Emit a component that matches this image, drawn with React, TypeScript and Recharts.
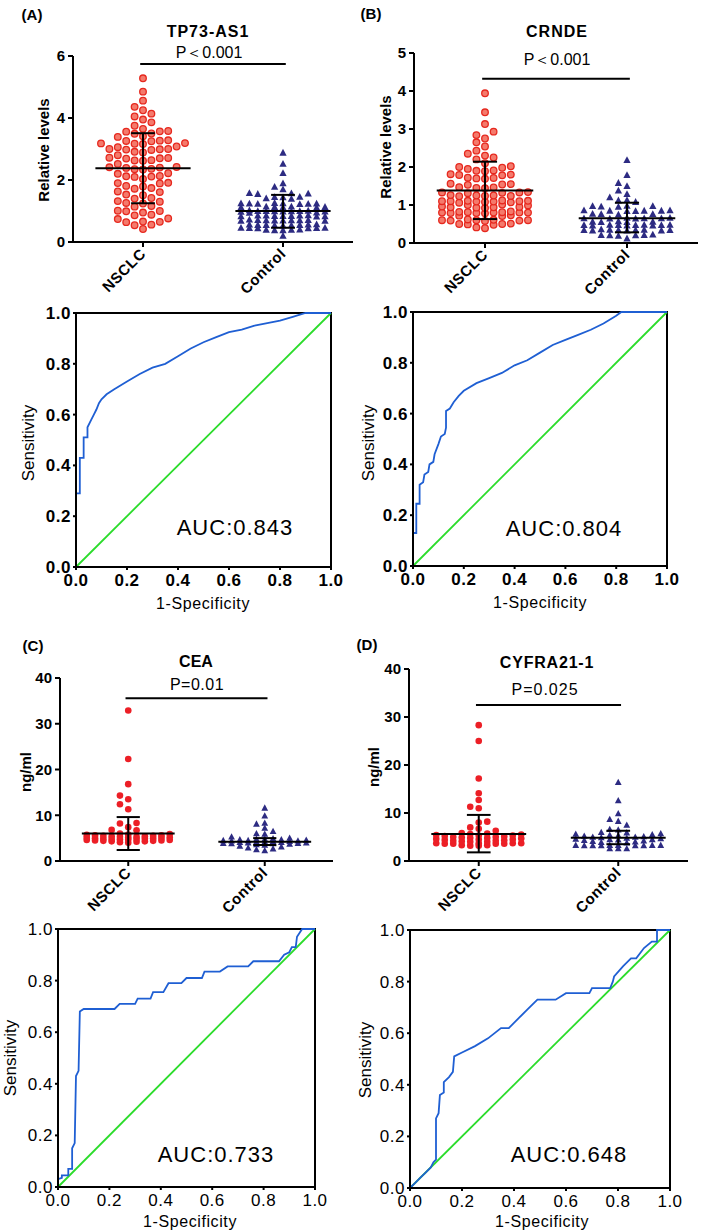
import React from 'react';
import { ScatterChart, Scatter, XAxis, YAxis, ReferenceLine, LineChart, Line, ReferenceArea } from 'recharts';

const FONT = 'Arial, "Liberation Sans", Helvetica, sans-serif';

const groupNames = ['NSCLC', 'Control'];

// ---- Panel A: TP73-AS1 relative levels ----
const tp73Nsclc = [5.28, 4.85, 4.56, 4.36, 4.25, 4.14, 4.05, 3.95, 3.86, 3.75, 3.65, 3.58, 3.56, 3.57, 3.5, 3.49, 3.41, 3.39, 3.28, 3.26, 3.27, 3.25, 3.19, 3.17, 3.18, 3.16, 3.08, 3.06, 3.0, 2.99, 2.98, 2.97, 3.0, 2.91, 2.89, 2.8, 2.71, 2.7, 2.69, 2.72, 2.64, 2.62, 2.63, 2.52, 2.41, 2.4, 2.39, 2.42, 2.36, 2.34, 2.35, 2.22, 2.2, 2.13, 2.11, 2.12, 2.1, 2.03, 1.91, 1.9, 1.89, 1.81, 1.79, 1.74, 1.72, 1.63, 1.61, 1.53, 1.51, 1.42, 1.4, 1.32, 1.3, 1.26, 1.24, 1.16, 1.14, 1.01, 1.0, 0.99, 0.95, 0.88, 0.86, 0.76, 0.74, 0.66, 0.65, 0.64, 0.56, 0.54, 0.42];
const tp73Ctrl = [2.88, 2.52, 2.22, 1.89, 1.78, 1.7, 1.58, 1.57, 1.56, 1.55, 1.46, 1.45, 1.44, 1.41, 1.39, 1.25, 1.24, 1.23, 1.25, 1.24, 1.22, 1.26, 1.23, 1.14, 1.13, 1.12, 1.13, 1.14, 1.12, 1.11, 1.01, 1.0, 0.99, 0.98, 1.0, 0.97, 1.02, 0.99, 0.98, 1.0, 0.95, 0.94, 0.85, 0.84, 0.83, 0.85, 0.84, 0.86, 0.82, 0.84, 0.83, 0.85, 0.71, 0.7, 0.69, 0.7, 0.68, 0.71, 0.69, 0.7, 0.72, 0.68, 0.56, 0.55, 0.54, 0.55, 0.56, 0.53, 0.55, 0.57, 0.54, 0.46, 0.45, 0.44, 0.46, 0.45, 0.44, 0.39, 0.38, 0.4, 0.39, 0.38, 0.2];
const tp73Mean = [2.38, 1.0];
const tp73Hi = [3.51, 1.52];
const tp73Lo = [1.25, 0.46];

// ---- Panel B: CRNDE relative levels ----
const crndeNsclc = [3.94, 3.44, 3.13, 2.93, 2.84, 2.75, 2.65, 2.54, 2.43, 2.35, 2.3, 2.25, 2.2, 2.1, 2.02, 2.0, 1.98, 1.95, 1.9, 1.89, 1.91, 1.8, 1.79, 1.81, 1.78, 1.7, 1.71, 1.69, 1.72, 1.56, 1.55, 1.54, 1.53, 1.45, 1.46, 1.44, 1.47, 1.33, 1.32, 1.34, 1.31, 1.33, 1.25, 1.24, 1.26, 1.23, 1.25, 1.24, 1.1, 1.09, 1.11, 1.08, 1.1, 1.12, 1.09, 1.1, 1.07, 1.11, 1.06, 1.0, 0.99, 1.01, 0.95, 0.94, 0.93, 0.96, 0.94, 0.92, 0.8, 0.81, 0.79, 0.8, 0.82, 0.78, 0.8, 0.81, 0.79, 0.8, 0.83, 0.72, 0.71, 0.73, 0.6, 0.59, 0.61, 0.6, 0.58, 0.62, 0.6, 0.59, 0.5, 0.49, 0.51, 0.48, 0.5, 0.41, 0.39];
const crndeCtrl = [2.18, 1.79, 1.58, 1.5, 1.38, 1.29, 1.2, 1.13, 1.12, 1.08, 0.97, 0.98, 0.96, 0.97, 0.95, 0.85, 0.86, 0.84, 0.85, 0.86, 0.84, 0.85, 0.76, 0.75, 0.77, 0.76, 0.65, 0.66, 0.64, 0.65, 0.66, 0.64, 0.65, 0.56, 0.55, 0.57, 0.56, 0.55, 0.47, 0.46, 0.48, 0.47, 0.46, 0.48, 0.47, 0.46, 0.48, 0.47, 0.34, 0.35, 0.33, 0.34, 0.35, 0.33, 0.34, 0.36, 0.33, 0.34, 0.21, 0.2, 0.22, 0.2, 0.21, 0.19, 0.12];
const crndeMean = [1.38, 0.65];
const crndeHi = [2.14, 1.06];
const crndeLo = [0.63, 0.28];

// ---- Panel C: CEA ng/ml ----
const ceaNsclc = [32.9, 22.3, 16.8, 14.3, 13.5, 12.4, 11.3, 8.3, 8.2, 7.4, 6.8, 6.7, 6.0, 5.9, 5.8, 5.7, 5.6, 5.6, 5.5, 5.5, 5.4, 5.4, 5.3, 5.3, 5.2, 5.2, 5.1, 5.1, 5.0, 5.0, 4.9, 4.9, 4.8, 4.8, 4.7, 4.7, 4.6, 4.6, 4.5, 4.5, 4.4, 4.4, 4.3, 4.3, 4.2, 4.1, 4.0];
const ceaCtrl = [11.6, 9.9, 8.3, 8.1, 7.2, 6.5, 6.0, 5.9, 5.3, 5.0, 4.9, 4.8, 4.8, 4.7, 4.7, 4.6, 4.5, 4.5, 4.4, 4.4, 4.3, 4.3, 4.2, 4.2, 4.1, 4.1, 4.0, 4.0, 3.9, 3.9, 3.8, 3.8, 3.7, 3.6, 3.5, 3.3, 3.1, 2.9, 2.7, 2.5, 2.3];
const ceaMean = [6.0, 4.2];
const ceaHi = [9.6, 5.0];
const ceaLo = [2.4, 3.5];

// ---- Panel D: CYFRA21-1 ng/ml ----
const cyfraNsclc = [28.3, 25.0, 17.2, 14.1, 12.7, 11.3, 11.0, 8.2, 8.0, 7.0, 6.7, 6.3, 5.8, 5.7, 5.6, 5.5, 5.4, 5.3, 5.3, 5.2, 5.1, 5.0, 5.0, 4.9, 4.8, 4.8, 4.7, 4.6, 4.5, 4.5, 4.4, 4.3, 4.2, 4.2, 4.1, 4.0, 4.0, 3.7, 3.7, 3.7, 3.7, 3.6, 3.6, 3.6, 3.6, 3.3, 3.3, 3.2, 3.2];
const cyfraCtrl = [16.4, 12.6, 9.9, 8.7, 8.3, 7.5, 6.6, 6.5, 6.0, 5.9, 5.7, 5.6, 5.5, 5.4, 5.3, 5.2, 5.1, 5.0, 5.0, 4.9, 4.8, 4.7, 4.6, 4.5, 4.5, 4.4, 4.3, 4.2, 4.1, 4.0, 3.9, 3.8, 3.3, 3.3, 3.3, 3.3, 3.3, 3.2, 3.2, 3.2, 3.2, 3.2, 2.6, 2.6, 2.6];
const cyfraMean = [5.6, 4.85];
const cyfraHi = [9.6, 6.3];
const cyfraLo = [1.8, 3.5];

// ---- ROC curves (1-specificity, sensitivity) ----
const rocTicks = [0, 0.2, 0.4, 0.6, 0.8, 1];
const rocAFpr = [0, 0, 0.015, 0.015, 0.03, 0.03, 0.045, 0.045, 0.06, 0.07, 0.08, 0.09, 0.1, 0.12, 0.15, 0.2, 0.25, 0.3, 0.35, 0.4, 0.45, 0.5, 0.55, 0.6, 0.65, 0.7, 0.75, 0.8, 0.85, 0.9, 1];
const rocATpr = [0, 0.29, 0.29, 0.43, 0.43, 0.51, 0.51, 0.55, 0.58, 0.6, 0.62, 0.645, 0.66, 0.68, 0.7, 0.73, 0.76, 0.785, 0.8, 0.83, 0.86, 0.885, 0.905, 0.925, 0.935, 0.95, 0.96, 0.97, 0.985, 1, 1];
const rocBFpr = [0, 0, 0.013, 0.013, 0.026, 0.026, 0.04, 0.045, 0.06, 0.065, 0.08, 0.085, 0.1, 0.11, 0.125, 0.13, 0.13, 0.145, 0.16, 0.18, 0.2, 0.25, 0.3, 0.35, 0.4, 0.45, 0.5, 0.55, 0.6, 0.65, 0.7, 0.75, 0.8, 0.82, 1];
const rocBTpr = [0, 0.13, 0.13, 0.245, 0.245, 0.32, 0.33, 0.36, 0.37, 0.4, 0.41, 0.44, 0.48, 0.51, 0.52, 0.545, 0.61, 0.62, 0.645, 0.67, 0.69, 0.72, 0.74, 0.76, 0.79, 0.81, 0.84, 0.87, 0.89, 0.91, 0.93, 0.955, 0.985, 1, 1];
const rocCFpr = [0, 0, 0.015, 0.015, 0.04, 0.04, 0.055, 0.055, 0.065, 0.07, 0.08, 0.085, 0.1, 0.22, 0.24, 0.3, 0.31, 0.36, 0.37, 0.41, 0.43, 0.48, 0.5, 0.56, 0.57, 0.63, 0.66, 0.74, 0.76, 0.86, 0.88, 0.9, 0.91, 0.925, 0.93, 0.95, 1];
const rocCTpr = [0, 0.03, 0.035, 0.045, 0.045, 0.07, 0.07, 0.15, 0.17, 0.43, 0.45, 0.68, 0.69, 0.69, 0.71, 0.71, 0.73, 0.73, 0.755, 0.755, 0.79, 0.79, 0.81, 0.81, 0.835, 0.835, 0.855, 0.855, 0.875, 0.875, 0.9, 0.91, 0.93, 0.93, 0.97, 1, 1];
const rocDFpr = [0, 0.02, 0.04, 0.06, 0.08, 0.09, 0.1, 0.1, 0.11, 0.115, 0.13, 0.13, 0.15, 0.165, 0.17, 0.2, 0.25, 0.3, 0.35, 0.38, 0.42, 0.45, 0.49, 0.56, 0.6, 0.69, 0.7, 0.77, 0.78, 0.785, 0.82, 0.85, 0.87, 0.9, 0.93, 0.95, 0.95, 1];
const rocDTpr = [0, 0.02, 0.04, 0.06, 0.08, 0.1, 0.11, 0.27, 0.29, 0.36, 0.37, 0.41, 0.43, 0.45, 0.51, 0.525, 0.55, 0.58, 0.62, 0.62, 0.66, 0.69, 0.73, 0.73, 0.755, 0.755, 0.775, 0.775, 0.8, 0.82, 0.86, 0.89, 0.89, 0.93, 0.955, 0.955, 1, 1];

// deterministic column beeswarm (layout of dots around each group's centre)
function swarm(values: number[], pxPerY: number, gap: number, stepX: number, maxCols: number, center: number) {
  const order: number[] = [0];
  for (let k = 1; k <= maxCols; k++) order.push(-k, k);
  const last = new Map<number, number>();
  const sorted = [...values].sort((a, b) => a - b);
  return sorted.map((v) => {
    const py = v * pxPerY;
    let col: number | null = null;
    for (const c of order) {
      const l = last.get(c);
      if (l === undefined || py - l >= gap) { col = c; break; }
    }
    if (col === null) {
      let best = order[0];
      let bestL = Infinity;
      for (const c of order) {
        const l = last.get(c) as number;
        if (l < bestL) { bestL = l; best = c; }
      }
      col = best;
    }
    last.set(col, py);
    return { x: center + col * stepX, y: v };
  });
}

function shapeFor(kind: string, size: number) {
  return (p: any) => {
    const { cx, cy } = p;
    if (kind === 'ring') return <circle cx={cx} cy={cy} r={size / 2} fill="#f47a6c" stroke="#e6281e" strokeWidth={1.3} />;
    if (kind === 'dot') return <circle cx={cx} cy={cy} r={size / 2} fill="#ec1f26" />;
    const h = size;
    return <path d={`M${cx},${cy - h * 0.55}L${cx + h * 0.52},${cy + h * 0.42}L${cx - h * 0.52},${cy + h * 0.42}Z`} fill="#2d2b82" />;
  };
}

function RotTick(props: any) {
  const { x, y, payload } = props;
  const label = payload.value < 1 ? groupNames[0] : groupNames[1];
  return (
    <text x={x} y={y} transform={`rotate(-45 ${x} ${y})`} textAnchor="end" dy="0.35em" fontSize={15} letterSpacing={0.5} fontWeight="bold" fontFamily={FONT} fill="#000">
      {label}
    </text>
  );
}

const blk = { stroke: '#000', strokeWidth: 2 };

function ScatterPanel({ box, plot, yMax, yTicks, grps, mean, hi, lo, sigY, xAxisH }: any) {
  const yAxisW = plot.l - box.x;
  const mTop = plot.t - box.y;
  const mRight = box.x + box.w - plot.r;
  const mBottom = box.h - (plot.b - box.y) - xAxisH;
  const pxPerX = (plot.r - plot.l) / 2;
  const pxPerY = (plot.b - plot.t) / yMax;
  return (
    <div style={{ position: 'absolute', left: box.x, top: box.y }}>
      <ScatterChart width={box.w} height={box.h} margin={{ top: mTop, right: mRight, bottom: mBottom, left: 0 }}>
        <XAxis type="number" dataKey="x" domain={[0, 2]} ticks={[0.5, 1.5]} height={xAxisH} axisLine={blk} tickLine={blk} tickSize={5} tickMargin={4} interval={0} tick={(p: any) => <RotTick {...p} />} />
        <YAxis type="number" dataKey="y" domain={[0, yMax]} ticks={yTicks} width={yAxisW} axisLine={blk} tickLine={blk} tickSize={5} tickMargin={3} interval={0} tick={{ fontSize: 15, fontWeight: 'bold', fill: '#000', fontFamily: FONT }} />
        {grps.map((g: any, i: number) => (
          <Scatter key={'s' + i} data={swarm(g.values, pxPerY, g.gap, g.step / pxPerX, g.cols, i + 0.5)} shape={shapeFor(g.kind, g.size)} isAnimationActive={false} />
        ))}
        {[0, 1].map((i) => (
          <ReferenceLine key={'m' + i} segment={[{ x: i + 0.16, y: mean[i] }, { x: i + 0.84, y: mean[i] }]} stroke="#000" strokeWidth={2} zIndex={1000} />
        ))}
        {[0, 1].map((i) => (
          <ReferenceLine key={'v' + i} segment={[{ x: i + 0.5, y: lo[i] }, { x: i + 0.5, y: hi[i] }]} stroke="#000" strokeWidth={2} zIndex={1000} />
        ))}
        {[0, 1].map((i) => (
          <ReferenceLine key={'h' + i} segment={[{ x: i + 0.415, y: hi[i] }, { x: i + 0.585, y: hi[i] }]} stroke="#000" strokeWidth={2} zIndex={1000} />
        ))}
        {[0, 1].map((i) => (
          <ReferenceLine key={'l' + i} segment={[{ x: i + 0.415, y: lo[i] }, { x: i + 0.585, y: lo[i] }]} stroke="#000" strokeWidth={2} zIndex={1000} />
        ))}
        <ReferenceLine segment={[{ x: 0.48, y: sigY }, { x: 1.52, y: sigY }]} stroke="#000" strokeWidth={2} />
      </ScatterChart>
    </div>
  );
}

function RocPanel({ box, plot, fpr, tpr, bold }: any) {
  const data = fpr.map((x: number, i: number) => ({ x, y: tpr[i] }));
  const yAxisW = plot.l - box.x;
  const mTop = plot.t - box.y;
  const mRight = box.x + box.w - plot.r;
  const xAxisH = 30;
  const mBottom = box.h - (plot.b - box.y) - xAxisH;
  const tickStyle = { fontSize: 17, fontWeight: bold ? 'bold' : 'normal', fill: '#000', fontFamily: FONT, letterSpacing: 0.5 };
  return (
    <div style={{ position: 'absolute', left: box.x, top: box.y }}>
      <LineChart width={box.w} height={box.h} data={data} margin={{ top: mTop, right: mRight, bottom: mBottom, left: 0 }}>
        <XAxis type="number" dataKey="x" domain={[0, 1]} ticks={rocTicks} tickFormatter={(v: number) => v.toFixed(1)} height={xAxisH} axisLine={blk} tickLine={blk} tickSize={3} tickMargin={4} interval={0} tick={tickStyle} />
        <YAxis type="number" domain={[0, 1]} ticks={rocTicks} tickFormatter={(v: number) => v.toFixed(1)} width={yAxisW} axisLine={blk} tickLine={blk} tickSize={3} tickMargin={2} interval={0} tick={tickStyle} />
        <ReferenceArea x1={0} x2={1} y1={0} y2={1} fill="none" fillOpacity={0} stroke="#000" strokeWidth={2} />
        <ReferenceLine segment={[{ x: 0, y: 0 }, { x: 1, y: 1 }]} stroke="#2bdc2b" strokeWidth={1.8} />
        <Line type="linear" dataKey="y" stroke="#1f5fd3" strokeWidth={1.8} dot={false} isAnimationActive={false} />
      </LineChart>
    </div>
  );
}

function Txt({ x, y, size, bold, rot, ls, children }: any) {
  return (
    <div
      style={{
        position: 'absolute', left: x, top: y,
        transform: `translate(-50%, -50%)${rot ? ` rotate(${rot}deg)` : ''}`,
        fontSize: size, fontWeight: bold ? 700 : 400, fontFamily: FONT,
        whiteSpace: 'nowrap', letterSpacing: ls || 0, lineHeight: 1, color: '#000',
      }}
    >
      {children}
    </div>
  );
}

const ringGrp = (values: number[], step: number) => ({ values, kind: 'ring', size: 6.6, gap: 7.2, step, cols: 5 });
const triGrp = (values: number[], step: number, size = 7, gap = 5.5) => ({ values, kind: 'tri', size, gap, step, cols: 5 });
const dotGrp = (values: number[], step: number) => ({ values, kind: 'dot', size: 6.6, gap: 6, step, cols: 5 });

export default function App() {
  return (
    <div style={{ position: 'absolute', left: 0, top: 0, width: 709, height: 1231, background: '#fff', overflow: 'hidden' }}>
      <RocPanel box={{ x: 0, y: 280, w: 360, h: 330 }} plot={{ l: 76, t: 313, r: 331, b: 567 }} fpr={rocAFpr} tpr={rocATpr} bold />
      <RocPanel box={{ x: 355, y: 280, w: 354, h: 330 }} plot={{ l: 413, t: 312, r: 667, b: 566 }} fpr={rocBFpr} tpr={rocBTpr} bold />
      <RocPanel box={{ x: 0, y: 890, w: 360, h: 341 }} plot={{ l: 58, t: 929, r: 315, b: 1187 }} fpr={rocCFpr} tpr={rocCTpr} />
      <RocPanel box={{ x: 355, y: 890, w: 354, h: 341 }} plot={{ l: 410, t: 930, r: 670, b: 1188 }} fpr={rocDFpr} tpr={rocDTpr} />

      <ScatterPanel box={{ x: 0, y: 0, w: 360, h: 300 }} plot={{ l: 73, t: 56, r: 353, b: 242 }} yMax={6} yTicks={[0, 2, 4, 6]} xAxisH={50}
        grps={[ringGrp(tp73Nsclc, 8.4), triGrp(tp73Ctrl, 8.4)]} mean={tp73Mean} hi={tp73Hi} lo={tp73Lo} sigY={5.74} />
      <ScatterPanel box={{ x: 355, y: 0, w: 354, h: 300 }} plot={{ l: 414, t: 53, r: 698, b: 243 }} yMax={5} yTicks={[0, 1, 2, 3, 4, 5]} xAxisH={50}
        grps={[ringGrp(crndeNsclc, 8.6), triGrp(crndeCtrl, 8.6)]} mean={crndeMean} hi={crndeHi} lo={crndeLo} sigY={4.32} />
      <ScatterPanel box={{ x: 0, y: 610, w: 360, h: 325 }} plot={{ l: 60, t: 678, r: 333, b: 861 }} yMax={40} yTicks={[0, 10, 20, 30, 40]} xAxisH={60}
        grps={[dotGrp(ceaNsclc, 8.3), triGrp(ceaCtrl, 8.3, 6.5, 5)]} mean={ceaMean} hi={ceaHi} lo={ceaLo} sigY={35.6} />
      <ScatterPanel box={{ x: 355, y: 610, w: 354, h: 325 }} plot={{ l: 409, t: 669, r: 688, b: 861 }} yMax={40} yTicks={[0, 10, 20, 30, 40]} xAxisH={60}
        grps={[dotGrp(cyfraNsclc, 8.5), triGrp(cyfraCtrl, 8.5, 6.5, 5)]} mean={cyfraMean} hi={cyfraHi} lo={cyfraLo} sigY={32.5} />

      <Txt x={32} y={14} size={15} bold>(A)</Txt>
      <Txt x={208} y={32} size={16} bold ls={1}>TP73-AS1</Txt>
      <Txt x={209} y={53} size={16}>P＜0.001</Txt>
      <Txt x={43} y={150} size={15} bold rot={-90}>Relative levels</Txt>

      <Txt x={371} y={13} size={15} bold>(B)</Txt>
      <Txt x={557} y={32} size={16} bold ls={1}>CRNDE</Txt>
      <Txt x={557} y={60} size={16}>P＜0.001</Txt>
      <Txt x={385} y={147} size={15} bold rot={-90}>Relative levels</Txt>

      <Txt x={28} y={443} size={17} rot={-90}>Sensitivity</Txt>
      <Txt x={203} y={604} size={16} ls={0.6}>1-Specificity</Txt>
      <Txt x={235} y={528} size={22} ls={1}>AUC:0.843</Txt>

      <Txt x={368} y={443} size={17} rot={-90}>Sensitivity</Txt>
      <Txt x={540} y={603} size={16} ls={0.6}>1-Specificity</Txt>
      <Txt x={564} y={529} size={22} ls={1}>AUC:0.804</Txt>

      <Txt x={33} y={645} size={15} bold>(C)</Txt>
      <Txt x={196} y={662} size={16} bold>CEA</Txt>
      <Txt x={197} y={685} size={16} ls={0.5}>P=0.01</Txt>
      <Txt x={25} y={772} size={15} bold rot={-90}>ng/ml</Txt>

      <Txt x={367} y={644} size={15} bold>(D)</Txt>
      <Txt x={547} y={663} size={16} bold ls={0.8}>CYFRA21-1</Txt>
      <Txt x={545} y={690} size={16} ls={1}>P=0.025</Txt>
      <Txt x={373} y={767} size={15} bold rot={-90}>ng/ml</Txt>

      <Txt x={10} y={1058} size={17} rot={-90}>Sensitivity</Txt>
      <Txt x={190} y={1222} size={16} ls={0.6}>1-Specificity</Txt>
      <Txt x={216} y={1155} size={22} ls={1}>AUC:0.733</Txt>

      <Txt x={365} y={1060} size={17} rot={-90}>Sensitivity</Txt>
      <Txt x={542} y={1222} size={16} ls={0.6}>1-Specificity</Txt>
      <Txt x={569} y={1155} size={22} ls={1}>AUC:0.648</Txt>
    </div>
  );
}
